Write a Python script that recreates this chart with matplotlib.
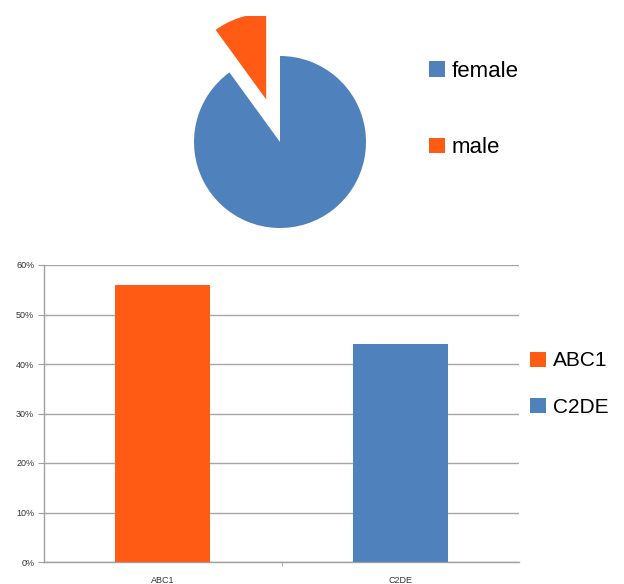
import matplotlib
matplotlib.use("Agg")
import matplotlib.pyplot as plt
from matplotlib.ticker import PercentFormatter, FixedLocator

plt.rcParams['font.family'] = ['Liberation Sans', 'DejaVu Sans']

# Data
pie_labels = ["female", "male"]
pie_values = [90, 10]
bar_categories = ["ABC1", "C2DE"]
bar_values = [0.56, 0.44]
y_ticks = [0.0, 0.1, 0.2, 0.3, 0.4, 0.5, 0.6]

BLUE = "#4F81BD"
ORANGE = "#FF5B14"

W, H = 624, 584
fig = plt.figure(figsize=(W / 100, H / 100), dpi=100)

def frac(x0, y0, x1, y1):
    return [x0 / W, 1 - y1 / H, (x1 - x0) / W, (y1 - y0) / H]

# ---- Pie ----
R = 86.0
cx, cy = 280.0, 142.0
px0, py0, px1, py1 = 180, 16, 380, 236
axp = fig.add_axes(frac(px0, py0, px1, py1))
wedges, _ = axp.pie(pie_values, colors=[BLUE, ORANGE], startangle=90,
                    counterclock=False, explode=[0, 0.52])
for w in wedges:
    w.set_clip_on(True)
axp.set_xlim((px0 - cx) / R, (px1 - cx) / R)
axp.set_ylim(-(py1 - cy) / R, (cy - py0) / R)
axp.set_aspect('auto')
axp.axis('off')

fig.legend(wedges, pie_labels, loc='center left',
           bbox_to_anchor=(429 / W, 1 - 109.5 / H), frameon=False,
           fontsize=16, handlelength=0.7, handleheight=0.7,
           handletextpad=0.32, labelspacing=2.5, borderpad=0,
           borderaxespad=0)

# ---- Bars ----
axb = fig.add_axes(frac(44, 265, 519, 562))
bars = axb.bar(range(len(bar_categories)), bar_values, width=0.4,
               color=[ORANGE, BLUE], label=bar_categories, zorder=3)
axb.set_xlim(-0.5, len(bar_categories) - 0.5)
axb.set_ylim(0, 0.6)
axb.yaxis.set_major_locator(FixedLocator(y_ticks))
axb.yaxis.set_major_formatter(PercentFormatter(1.0, decimals=0))
axb.set_xticks(range(len(bar_categories)))
axb.set_xticklabels(bar_categories)
axb.set_xticks([0.5], minor=True)
axb.tick_params(axis='x', which='major', length=0, labelsize=6.5,
                colors='#333333', pad=10)
axb.tick_params(axis='x', which='minor', length=3, color='#A0A0A0')
axb.tick_params(axis='y', length=4, color='#A0A0A0', labelsize=6.5,
                labelcolor='#333333', pad=3)
axb.grid(axis='y', color='#A6A6A6', linewidth=1.0, zorder=0)
for s in ['top', 'right']:
    axb.spines[s].set_visible(False)
for s in ['left', 'bottom']:
    axb.spines[s].set_color('#A0A0A0')
    axb.spines[s].set_linewidth(1.0)

fig.legend(bars, bar_categories, loc='center left',
           bbox_to_anchor=(530 / W, 1 - 384 / H), frameon=False,
           fontsize=15, handlelength=0.75, handleheight=0.75,
           handletextpad=0.33, labelspacing=1.3, borderpad=0,
           borderaxespad=0)

fig.savefig("out.png", dpi=100)
